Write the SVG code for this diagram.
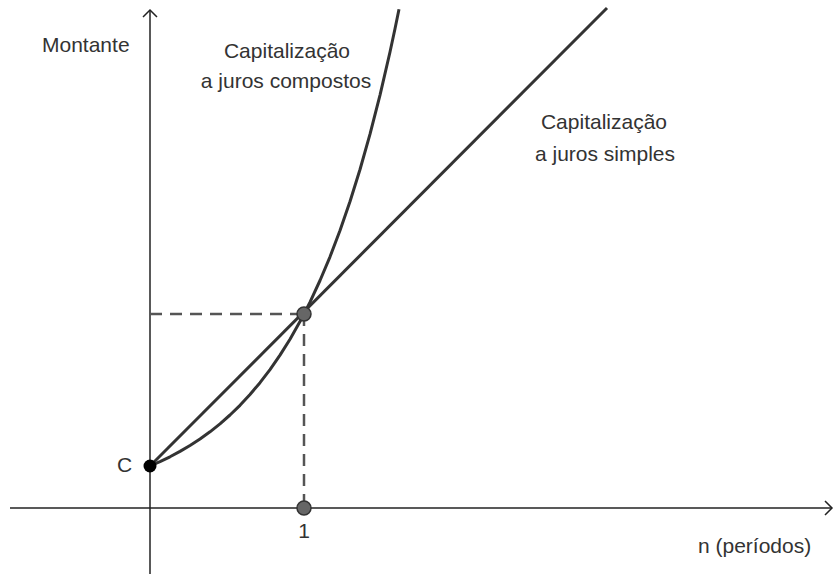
<svg xmlns="http://www.w3.org/2000/svg" width="834" height="574" viewBox="0 0 834 574">
<style>
text{font-family:"Liberation Sans",Arial,sans-serif;font-size:21px;fill:#333}
.axis{stroke:#222;stroke-width:1.5;fill:none}
.curve{stroke:#333;stroke-width:3;fill:none;stroke-linejoin:round}
.dash{stroke:#555;stroke-width:2.5;stroke-dasharray:12 8;fill:none}
.pt{fill:#666;stroke:#333;stroke-width:1.5}
</style>
<rect width="834" height="574" fill="#fff"/>
<g id="axes">
<line class="axis" x1="10" y1="508" x2="832" y2="508" stroke="#555" stroke-width="2"/>
<polyline class="axis" points="825,501 832,508 825,515"/>
<line class="axis" x1="150" y1="574" x2="150" y2="10"/>
<polyline class="axis" points="143,17 150,10 157,17"/>
</g>
<g id="connectors">
<line class="dash" x1="150" y1="314" x2="304" y2="314"/>
<line class="dash" x1="304" y1="314" x2="304" y2="508"/>
<line class="curve" x1="150" y1="466" x2="607" y2="8"/>
<polyline class="curve" points="150,466 160,461.6 170,456.8 180,451.4 190,445.5 200,439 210,431.8 220,423.8 230,415 240,405.3 250,394.5 260,382.7 270,369.6 280,355.1 290,339.2 300,321.6 304,314 310,302.1 320,280.5 330,256.8 340,230.5 350,201.5 360,169.5 370,134.2 380,95.1 390,52 395,28.7 399,9.3"/>
</g>
<g id="pointC"><circle cx="150" cy="466" r="6.5" fill="#000"/><text x="117" y="472">C</text></g>
<g id="pointP"><circle class="pt" cx="304" cy="314" r="7"/></g>
<g id="point1"><circle class="pt" cx="304" cy="508" r="7"/><text x="304" y="538" text-anchor="middle" fill="#555">1</text></g>
<g id="labelY"><text x="42" y="52">Montante</text></g>
<g id="labelX"><text x="698" y="553">n (períodos)</text></g>
<g id="labelCompostos"><text x="287" y="58" text-anchor="middle">Capitalização</text><text x="286" y="88" text-anchor="middle">a juros compostos</text></g>
<g id="labelSimples"><text x="604" y="129" text-anchor="middle">Capitalização</text><text x="605" y="161" text-anchor="middle">a juros simples</text></g>
</svg>
